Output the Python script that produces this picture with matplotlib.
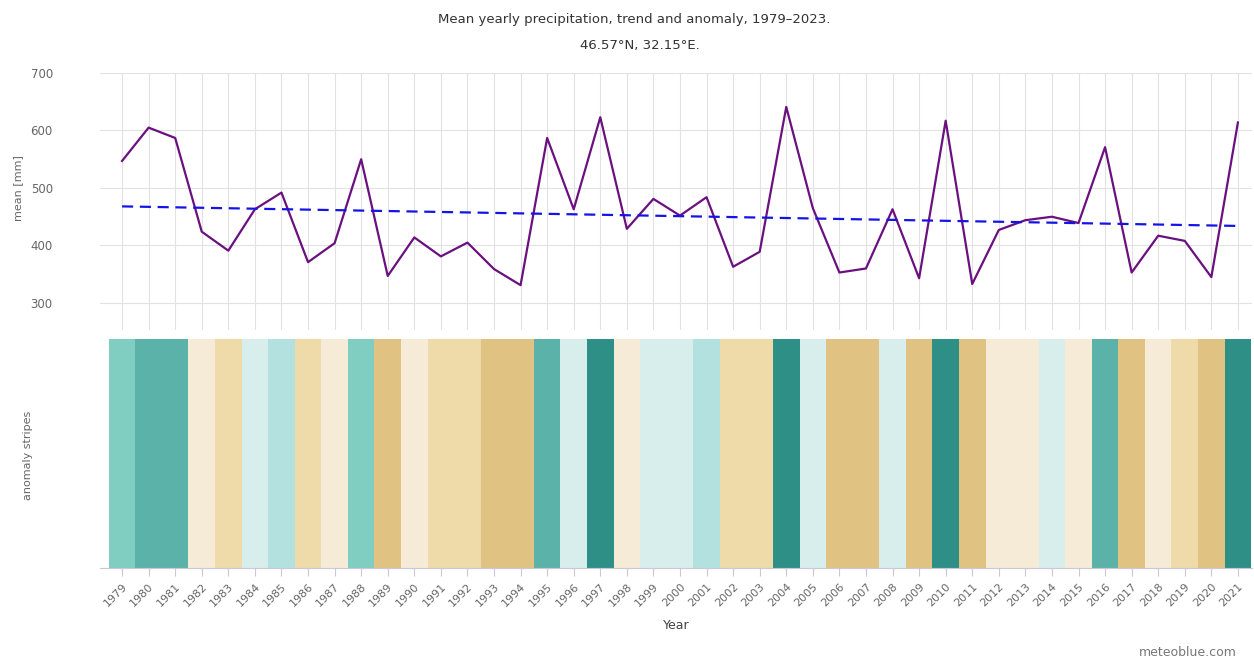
import numpy as np
import matplotlib
matplotlib.use("Agg")
import matplotlib.pyplot as plt
from matplotlib.colors import ListedColormap, BoundaryNorm

# data
years = list(range(1979, 2022))
precip = [547, 605, 587, 424, 391, 463, 492, 371, 404, 550,
          347, 414, 381, 405, 359, 331, 587, 463, 623, 429,
          481, 452, 484, 363, 389, 641, 465, 353, 360, 463,
          343, 617, 333, 427, 444, 450, 439, 571, 353, 417,
          408, 345, 614]
trend_years = [1979, 2021]
trend_vals = [468, 434]
# anomaly class of each stripe (-3 = dry ... +4 = wet)
stripe_level = [2, 3, 3, -1, -2, 0, 1, -2, -1, 2,
                -3, -1, -2, -2, -3, -3, 3, 0, 4, -1,
                0, 0, 1, -2, -2, 4, 0, -3, -3, 0,
                -3, 4, -3, -1, -1, 0, -1, 3, -3, -1,
                -2, -3, 4]
level_colors = ["#e0c383", "#efdba9", "#f5ebd6", "#d7eeec",
                "#b3e1df", "#80cdc2", "#5ab2a8", "#2e8f86"]

W, H = 1254, 660
fig = plt.figure(figsize=(W / 100, H / 100), dpi=100)

def box(l, t, r, b):
    return [l / W, 1 - b / H, (r - l) / W, (b - t) / H]

ax1 = fig.add_axes(box(100, 73, 1252, 330))
ax2 = fig.add_axes(box(100, 339, 1252, 568), sharex=ax1)

grey = "#666666"
grid_c = "#e2e2e2"

# top: yearly mean + trend
ax1.plot(years, precip, color="#6a107f", lw=1.6, zorder=3)
ax1.plot(trend_years, trend_vals, color="#1414e6", lw=1.6, ls=(0, (5, 3)), zorder=4)
ax1.set_ylim(253, 700)
ax1.set_yticks([300, 400, 500, 600, 700])
ax1.set_xlim(1978.17, 2021.53)
ax1.set_xticks(years)
ax1.grid(True, color=grid_c, lw=0.8)
ax1.tick_params(axis="x", length=0, labelbottom=False)
ax1.tick_params(axis="y", length=0, labelsize=8.5, labelcolor=grey, pad=34)
for s in ax1.spines.values():
    s.set_visible(False)

# bottom: anomaly stripes
cmap = ListedColormap(level_colors)
norm = BoundaryNorm(np.arange(-3.5, 5.5, 1), cmap.N)
ax2.bar(years, np.ones(len(years)), width=1.0, bottom=0,
        color=cmap(norm(stripe_level)), linewidth=0)
ax2.set_ylim(0, 1)
ax2.set_yticks([])
for s in ["top", "right", "left"]:
    ax2.spines[s].set_visible(False)
ax2.spines["bottom"].set_color("#c8c8d8")
ax2.tick_params(axis="x", length=6, color="#c8c8d8", labelsize=8,
                labelcolor=grey, labelrotation=45)
ax2.set_xticklabels([str(y) for y in years])
for lab in ax2.get_xticklabels():
    lab.set_ha("right")
    lab.set_rotation_mode("anchor")
ax2.set_xlabel("Year", fontsize=9, color="#444444", labelpad=8)

fig.text(18 / W, 1 - 188 / H, "mean [mm]", rotation=90, ha="center", va="center",
         fontsize=8, color=grey)
fig.text(28 / W, 1 - 455 / H, "anomaly stripes", rotation=90, ha="center", va="center",
         fontsize=8, color=grey)

fig.text(634 / W, 1 - 20 / H, "Mean yearly precipitation, trend and anomaly, 1979\u20132023.",
         ha="center", va="center", fontsize=9.5, color="#333333")
fig.text(640 / W, 1 - 46 / H, "46.57\u00b0N, 32.15\u00b0E.",
         ha="center", va="center", fontsize=9.5, color="#333333")
fig.text(1237 / W, 1 - 652 / H, "meteoblue.com", ha="right", va="center",
         fontsize=9, color="#777777")

fig.savefig("out.png", dpi=100, facecolor="white")
